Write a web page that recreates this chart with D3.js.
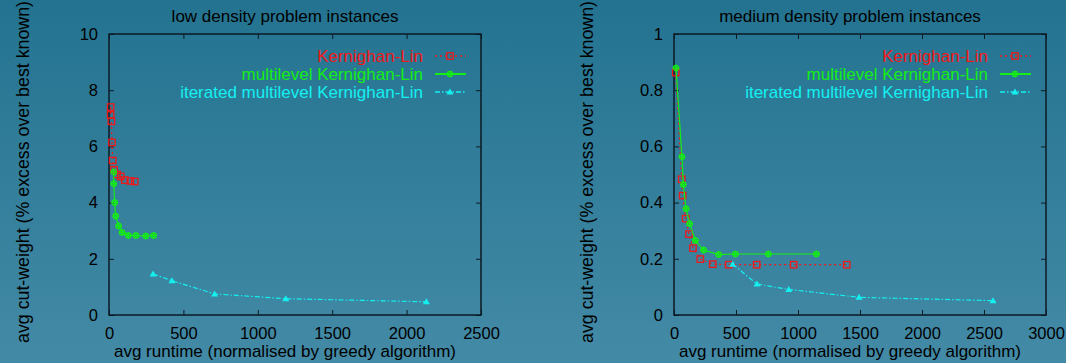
<!DOCTYPE html>
<html>
<head>
<meta charset="utf-8">
<script src="https://cdn.jsdelivr.net/npm/d3@7"></script>
<style>
  body { margin: 0; padding: 0; overflow: hidden; }
  svg { display: block; font-family: "Liberation Sans", Arial, sans-serif; }
</style>
</head>
<body>
<div id="chart"></div>
<script>
// series names
const seriesNames = ["Kernighan-Lin", "multilevel Kernighan-Lin", "iterated multilevel Kernighan-Lin"];

// low density: runtime (x) and excess (y)
const lowKlX = [11, 11, 16, 20, 25, 34, 54, 79, 106, 144, 173];
const lowKlY = [7.40, 7.12, 6.89, 6.14, 5.50, 5.17, 5.00, 4.93, 4.80, 4.77, 4.75];
const lowMlX = [32, 32, 38, 45, 65, 88, 130, 181, 247, 300];
const lowMlY = [5.09, 4.67, 4.00, 3.52, 3.17, 2.94, 2.83, 2.83, 2.81, 2.83];
const lowItX = [296, 423, 710, 1188, 2133];
const lowItY = [1.46, 1.22, 0.75, 0.58, 0.47];

// medium density
const medKlX = [14, 62, 70, 94, 121, 153, 212, 312, 441, 667, 965, 1393];
const medKlY = [0.863, 0.483, 0.425, 0.343, 0.288, 0.238, 0.199, 0.181, 0.179, 0.179, 0.179, 0.179];
const medMlX = [16, 64, 75, 97, 126, 172, 239, 360, 495, 761, 1148];
const medMlY = [0.879, 0.563, 0.464, 0.378, 0.325, 0.265, 0.231, 0.215, 0.217, 0.217, 0.217];
const medItX = [473, 669, 925, 1492, 2573];
const medItY = [0.181, 0.110, 0.091, 0.063, 0.051];

// axis ticks
const lowXTicks = [0, 500, 1000, 1500, 2000, 2500];
const lowYTicks = [0, 2, 4, 6, 8, 10];
const medXTicks = [0, 500, 1000, 1500, 2000, 2500, 3000];
const medYTicks = [0, 0.2, 0.4, 0.6, 0.8, 1];

const W = 1066, H = 363;
const colors = ["#f01818", "#14ee14", "#14f0f0"];
const dashes = ["2,3", null, "5,2,1.5,2"];
const FS = '17px', TICK_FS = '16.5px', YLAB_FS = '17.8px';

const svg = d3.select('#chart').append('svg')
  .attr('width', W).attr('height', H);

const defs = svg.append('defs');
const grad = defs.append('linearGradient')
  .attr('id', 'bg').attr('x1', 0).attr('y1', 0).attr('x2', 0).attr('y2', 1);
grad.append('stop').attr('offset', '0%').attr('stop-color', '#237390');
grad.append('stop').attr('offset', '100%').attr('stop-color', '#438aa6');
svg.append('rect').attr('width', W).attr('height', H).attr('fill', 'url(#bg)');

function zip(xs, ys) { return xs.map((x, i) => ({x: x, y: ys[i]})); }

function marker(g, type, x, y, color) {
  if (type === 0) {
    g.append('rect').attr('x', x - 3.2).attr('y', y - 3.2).attr('width', 6.4).attr('height', 6.4)
      .attr('fill', 'none').attr('stroke', color).attr('stroke-width', 1.3);
  } else if (type === 1) {
    g.append('circle').attr('cx', x).attr('cy', y).attr('r', 2.6)
      .attr('fill', 'none').attr('stroke', color).attr('stroke-width', 1.3);
    g.append('path').attr('d', `M${x-3.3},${y}H${x+3.3}M${x},${y-3.3}V${y+3.3}`)
      .attr('stroke', color).attr('stroke-width', 1.3);
  } else {
    g.append('path').attr('d', `M${x},${y-3.5}L${x+3.5},${y+2.5}L${x-3.5},${y+2.5}Z`)
      .attr('fill', color);
  }
}

function drawPanel(opts) {
  const left = opts.left, top = 34, w = 372, h = 281;
  const g = svg.append('g').attr('transform', `translate(${left},${top})`);

  const x = d3.scaleLinear().domain(opts.xDomain).range([0, w]);
  const y = d3.scaleLinear().domain(opts.yDomain).range([h, 0]);

  const ax = [
    g.append('g').attr('transform', `translate(0,${h})`)
      .call(d3.axisBottom(x).tickValues(opts.xTicks).tickSize(-5).tickSizeOuter(0).tickPadding(12).tickFormat(d3.format('d'))),
    g.append('g')
      .call(d3.axisTop(x).tickValues(opts.xTicks).tickSize(-5).tickSizeOuter(0).tickFormat('')),
    g.append('g')
      .call(d3.axisLeft(y).tickValues(opts.yTicks).tickSize(-5).tickSizeOuter(0).tickPadding(11).tickFormat(opts.fmtY)),
    g.append('g').attr('transform', `translate(${w},0)`)
      .call(d3.axisRight(y).tickValues(opts.yTicks).tickSize(-5).tickSizeOuter(0).tickFormat(''))
  ];
  ax.forEach(a => {
    a.select('.domain').remove();
    a.selectAll('line').attr('stroke', '#0c1a24').attr('stroke-width', 1);
    a.selectAll('text').attr('fill', '#000').style('font-size', TICK_FS)
      .style('font-family', '"Liberation Sans", Arial, sans-serif');
  });

  g.append('rect').attr('width', w).attr('height', h)
    .attr('fill', 'none').attr('stroke', '#0c1a24').attr('stroke-width', 1.5);

  const line = d3.line().x(d => x(d.x)).y(d => y(d.y));
  opts.series.forEach((s, i) => {
    const data = zip(s[0], s[1]);
    g.append('path').datum(data).attr('d', line)
      .attr('fill', 'none').attr('stroke', colors[i]).attr('stroke-width', 1.2)
      .attr('stroke-dasharray', dashes[i]);
    const mg = g.append('g');
    data.forEach(d => marker(mg, i, x(d.x), y(d.y), colors[i]));
  });

  // legend
  const lg = g.append('g');
  seriesNames.forEach((name, i) => {
    const ly = 22 + i * 18;
    lg.append('text').attr('x', opts.legendTextX).attr('y', ly).attr('dy', '0.35em')
      .attr('text-anchor', 'end').attr('fill', colors[i]).style('font-size', FS)
      .text(name);
    lg.append('line').attr('x1', opts.legendTextX + 12).attr('x2', opts.legendTextX + 43)
      .attr('y1', ly).attr('y2', ly)
      .attr('stroke', colors[i]).attr('stroke-width', i === 1 ? 2 : 1.3)
      .attr('stroke-dasharray', dashes[i]);
    marker(lg, i, opts.legendTextX + 27, ly, colors[i]);
  });

  // title + axis labels
  svg.append('text').attr('x', left + w / 2 - 10).attr('y', 22)
    .attr('text-anchor', 'middle').attr('fill', '#000').style('font-size', FS)
    .text(opts.title);
  svg.append('text').attr('x', left + w / 2 - 10).attr('y', 357)
    .attr('text-anchor', 'middle').attr('fill', '#000').style('font-size', FS)
    .text('avg runtime (normalised by greedy algorithm)');
  svg.append('text')
    .attr('transform', `translate(${opts.yLabelX},172) rotate(-90)`)
    .attr('text-anchor', 'middle').attr('fill', '#000').style('font-size', YLAB_FS)
    .text('avg cut-weight (% excess over best known)');
}

drawPanel({
  left: 109, title: 'low density problem instances',
  xDomain: [0, 2500], yDomain: [0, 10], xTicks: lowXTicks, yTicks: lowYTicks,
  fmtY: d3.format('d'), legendTextX: 314, yLabelX: 29,
  series: [[lowKlX, lowKlY], [lowMlX, lowMlY], [lowItX, lowItY]]
});

drawPanel({
  left: 674, title: 'medium density problem instances',
  xDomain: [0, 3000], yDomain: [0, 1], xTicks: medXTicks, yTicks: medYTicks,
  fmtY: d => d === 0 || d === 1 ? String(d) : d3.format('.1f')(d), legendTextX: 314, yLabelX: 593,
  series: [[medKlX, medKlY], [medMlX, medMlY], [medItX, medItY]]
});
</script>
</body>
</html>
